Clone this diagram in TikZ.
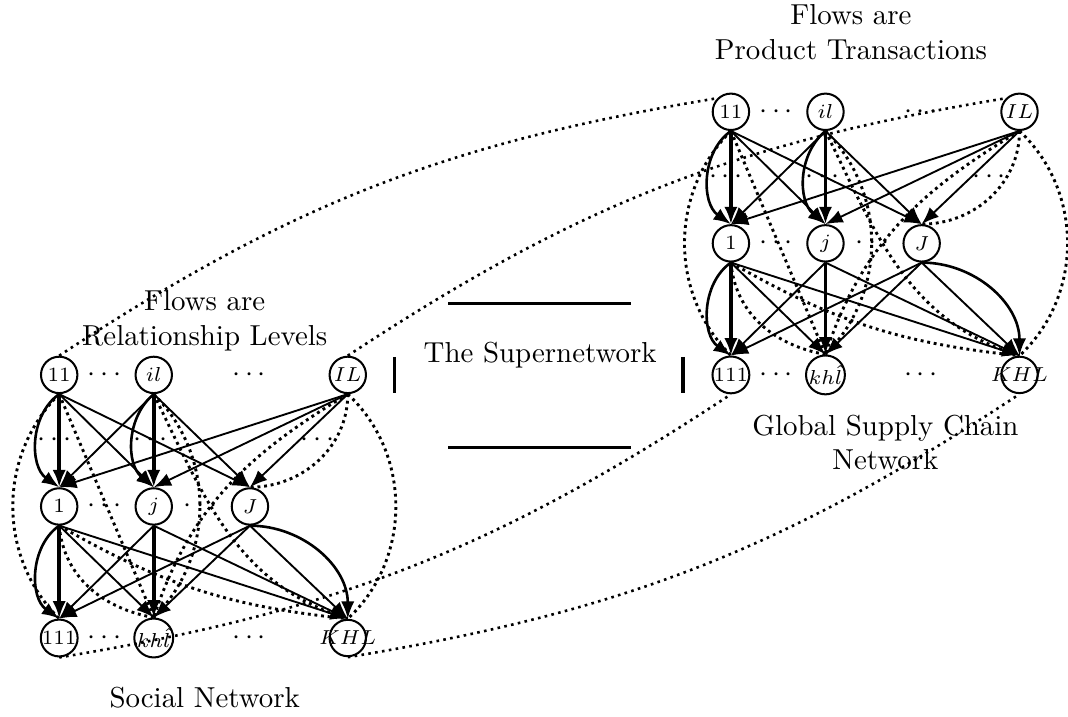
\documentclass[tikz,border=0pt]{standalone}
\usepackage{amsmath}
\usetikzlibrary{arrows.meta}

\begin{document}
\begin{tikzpicture}[
	net/.style={draw, circle, line width=0.7pt, minimum size=12.6pt, inner sep=0pt, font=\scriptsize},
	flow/.style={-{Latex[length=6pt,width=4.6pt]}, line width=0.65pt},
	heavy/.style={flow, line width=1.3pt},
	curvy/.style={flow, line width=0.9pt},
	ecom/.style={line width=1pt, dash pattern=on 1pt off 1.3pt},
	link/.style={line width=0.9pt, dash pattern=on 0.9pt off 1.5pt},
	bar/.style={line width=1.2pt}]
		\useasboundingbox (0,0) rectangle (12.99,8.72);
		% social network
		\node[net] (s11) at (0.72,4.16) {$11$};
		\node[net] (sil) at (1.87,4.16) {$il$};
		\node[net] (sIL) at (4.23,4.16) {$IL$};
		\node[net] (s1) at (0.72,2.56) {$1$};
		\node[net] (sj) at (1.87,2.56) {$j$};
		\node[net] (sJ) at (3.04,2.56) {$J$};
		\node[net] (s111) at (0.72,0.96) {$111$};
		\node[net] (skhl) at (1.87,0.96) {$kh\hat{l}$};
		\node[net] (sKHL) at (4.23,0.96) {\makebox[0pt]{$KHL$}};
		\node (sdt1) at (1.30,4.16) {$\cdots$};
		\node (sdt2) at (3.06,4.16) {$\cdots$};
		\node (sdt3) at (0.69,3.37) {$\cdots$};
		\node (sdt4) at (1.86,3.37) {$\cdots$};
		\node (sdt5) at (3.89,3.37) {$\cdots$};
		\node (sdt6) at (1.30,2.56) {$\cdots$};
		\node (sdt7) at (2.47,2.56) {$\cdots$};
		\node (sdt8) at (1.30,0.96) {$\cdots$};
		\node (sdt9) at (3.06,0.96) {$\cdots$};
		\node[align=center] (sflows) at (2.49,4.82) {Flows are\\Relationship Levels};
		\node (sname) at (2.49,0.24) {Social Network};
		\path[heavy] (s11.south) edge (s1.north)
		(sil.south) edge (sj.north)
		(s1.south) edge (s111.north)
		(sj.south) edge (skhl.north);
		\path[flow] (s11.south) edge (sj.north) edge (sJ.north)
		(sil.south) edge (s1.north) edge (sJ.north)
		(sIL.south) edge (s1.north) edge (sj.north) edge (sJ.north)
		(s1.south) edge (skhl.north) edge (sKHL.north)
		(sj.south) edge (s111.north) edge (sKHL.north)
		(sJ.south) edge (s111.north) edge (skhl.north) edge (sKHL.north);
		\draw[curvy] (s11.south) to [bend right=55] (s1.north);
		\draw[curvy] (sil.south) to [bend right=50] (sj.north);
		\draw[curvy] (s1.south) to [bend right=55] (s111.north);
		\draw[curvy] (sJ.south) to [out=0,in=90] (sKHL.north);
		\draw[ecom] (s11.south) to [bend right=45] (s111.north);
		\draw[ecom] (s11.south) -- (skhl.north);
		\draw[ecom] (sil.south) to [bend left=45] (skhl.north);
		\draw[ecom] (sil.south) to [out=-64,in=163] (sKHL.north);
		\draw[ecom] (sIL.south) to [out=-149,in=72] (skhl.north);
		\draw[ecom] (sIL.south) to [out=-90,in=0] (sJ.north);
		\draw[ecom] (sIL.south) to [bend left=47] (sKHL.north);
		\draw[ecom] (s1.south) to [bend right=12] (sKHL.north);
		\draw[ecom] (s1.south) to [out=-85,in=170] (skhl.north);
		% global supply chain network
		\node[net] (g11) at (8.89,7.36) {$11$};
		\node[net] (gil) at (10.04,7.36) {$il$};
		\node[net] (gIL) at (12.40,7.36) {$IL$};
		\node[net] (g1) at (8.89,5.76) {$1$};
		\node[net] (gj) at (10.04,5.76) {$j$};
		\node[net] (gJ) at (11.21,5.76) {$J$};
		\node[net] (g111) at (8.89,4.16) {$111$};
		\node[net] (gkhl) at (10.04,4.16) {$kh\hat{l}$};
		\node[net] (gKHL) at (12.40,4.16) {\makebox[0pt]{$KHL$}};
		\node (gdt1) at (9.47,7.36) {$\cdots$};
		\node (gdt2) at (11.23,7.36) {$\cdots$};
		\node (gdt3) at (8.86,6.57) {$\cdots$};
		\node (gdt4) at (10.03,6.57) {$\cdots$};
		\node (gdt5) at (12.06,6.57) {$\cdots$};
		\node (gdt6) at (9.47,5.76) {$\cdots$};
		\node (gdt7) at (10.64,5.76) {$\cdots$};
		\node (gdt8) at (9.47,4.16) {$\cdots$};
		\node (gdt9) at (11.23,4.16) {$\cdots$};
		\node[align=center] (gflows) at (10.35,8.33) {Flows are\\Product Transactions};
		\node[align=center] (gname) at (10.77,3.34) {Global Supply Chain\\Network};
		\path[heavy] (g11.south) edge (g1.north)
		(gil.south) edge (gj.north)
		(g1.south) edge (g111.north)
		(gj.south) edge (gkhl.north);
		\path[flow] (g11.south) edge (gj.north) edge (gJ.north)
		(gil.south) edge (g1.north) edge (gJ.north)
		(gIL.south) edge (g1.north) edge (gj.north) edge (gJ.north)
		(g1.south) edge (gkhl.north) edge (gKHL.north)
		(gj.south) edge (g111.north) edge (gKHL.north)
		(gJ.south) edge (g111.north) edge (gkhl.north) edge (gKHL.north);
		\draw[curvy] (g11.south) to [bend right=55] (g1.north);
		\draw[curvy] (gil.south) to [bend right=50] (gj.north);
		\draw[curvy] (g1.south) to [bend right=55] (g111.north);
		\draw[curvy] (gJ.south) to [out=0,in=90] (gKHL.north);
		\draw[ecom] (g11.south) to [bend right=45] (g111.north);
		\draw[ecom] (g11.south) -- (gkhl.north);
		\draw[ecom] (gil.south) to [bend left=45] (gkhl.north);
		\draw[ecom] (gil.south) to [out=-64,in=163] (gKHL.north);
		\draw[ecom] (gIL.south) to [out=-149,in=72] (gkhl.north);
		\draw[ecom] (gIL.south) to [out=-90,in=0] (gJ.north);
		\draw[ecom] (gIL.south) to [bend left=47] (gKHL.north);
		\draw[ecom] (g1.south) to [bend right=12] (gKHL.north);
		\draw[ecom] (g1.south) to [out=-85,in=170] (gkhl.north);
		% the supernetwork
		\node (super) at (6.57,4.40) {The Supernetwork};
		\draw[bar] (5.45,5.03) -- (7.67,5.03);
		\draw[bar] (5.45,3.28) -- (7.67,3.28);
		\draw[bar] (4.80,4.38) -- (4.80,3.94);
		\draw[bar] (8.31,4.38) -- (8.31,3.94);
		\draw[link] (s11.north) to [bend left=12] (g11.north west);
		\draw[link] (sIL.north) to [bend left=12] (gIL.north west);
		\draw[link] (s111.south) to [bend right=12] (g111.south);
		\draw[link] (sKHL.south) to [bend right=12] (gKHL.south);
\end{tikzpicture}
\end{document}
